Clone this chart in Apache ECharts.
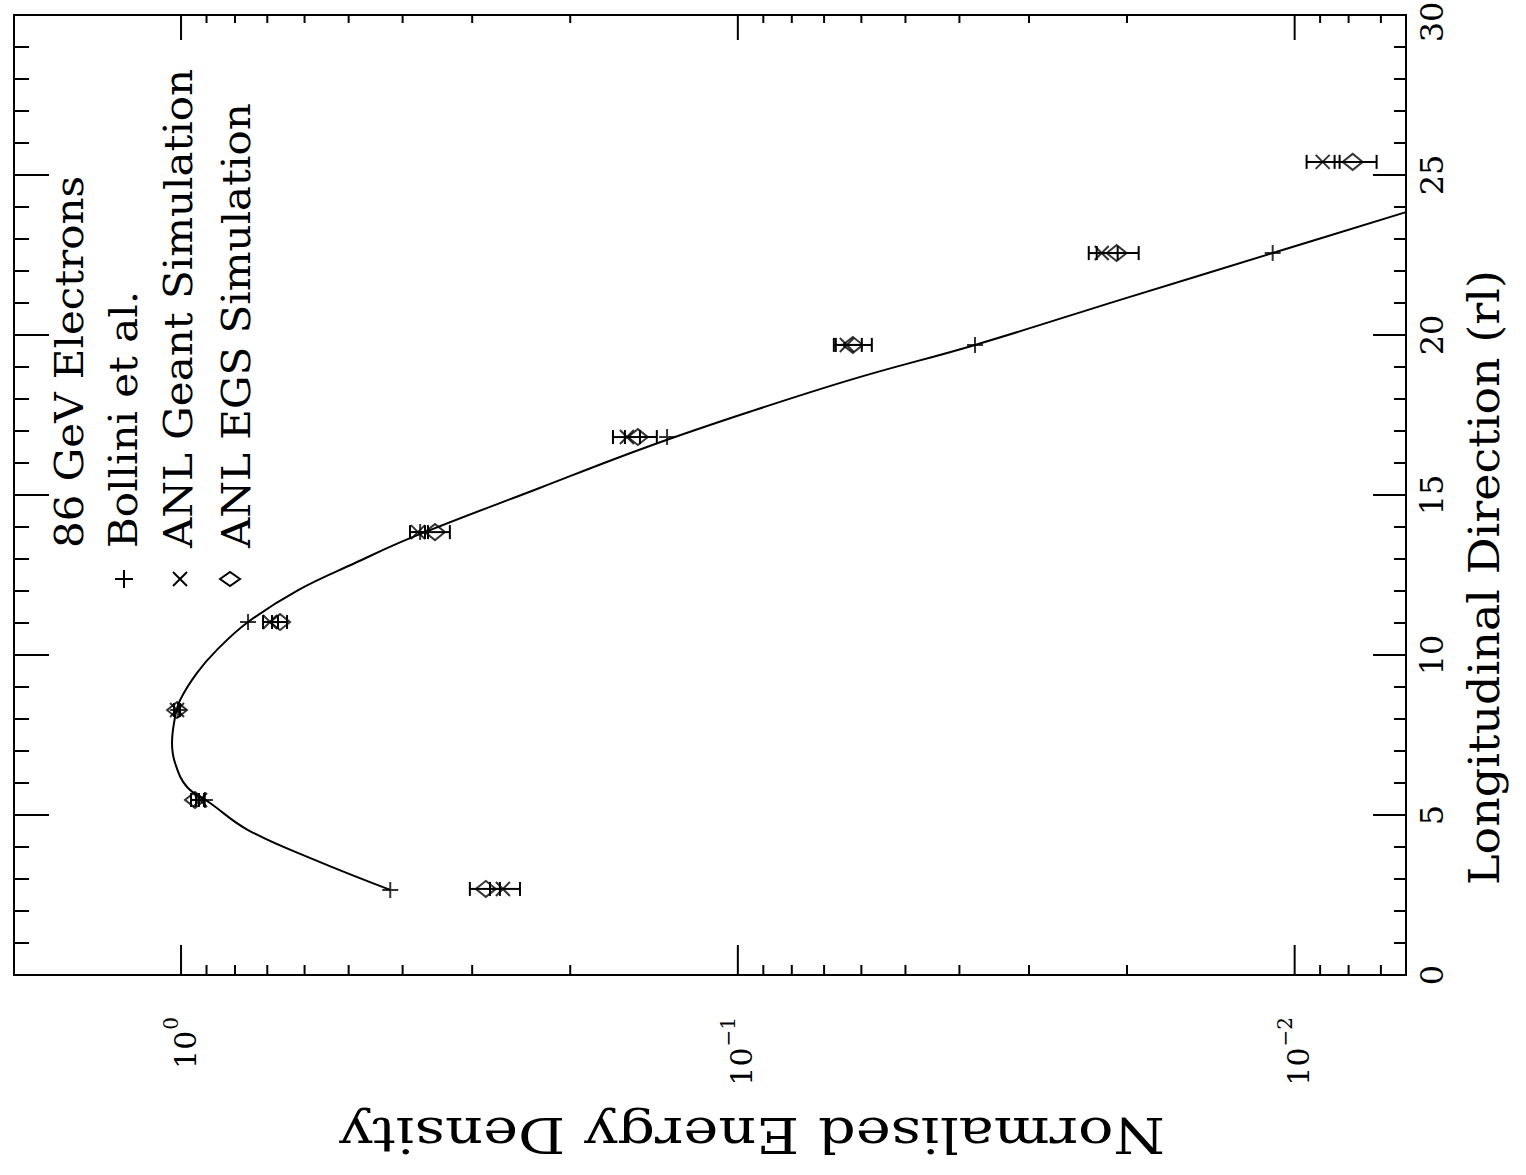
<!DOCTYPE html>
<html>
<head>
<meta charset="utf-8">
<script src="https://cdn.jsdelivr.net/npm/echarts@6/dist/echarts.min.js"></script>
<style>
  html, body { margin: 0; padding: 0; background: #fff; overflow: hidden; }
  #page { position: absolute; left: 0; top: 0; width: 1526px; height: 1175px; overflow: hidden; background: #fff; }
  /* the figure is laid out in portrait and turned a quarter turn anticlockwise */
  #chart { position: absolute; left: 0; top: 0; width: 1175px; height: 1526px;
           transform-origin: 0 0; transform: translate(0, 1175px) rotate(-90deg); }
</style>
</head>
<body>
<div id="page"><div id="chart"></div></div>
<script>
// ---- data: depth in radiation lengths, normalised energy density ----
const depthBollini = [2.66, 5.47, 8.28, 11.03, 13.84, 16.81, 19.69, 22.56];
const bollini      = [0.421, 0.906, 1.012, 0.758, 0.372, 0.134, 0.0375, 0.01095];

const depthSim  = [2.69, 5.47, 8.28, 11.03, 13.84, 16.81, 19.69, 22.56, 25.41];
const geant     = [0.2642, 0.9244, 1.0167, 0.6921, 0.3754, 0.1582, 0.06372, 0.02221, 0.008906];
const geantHigh = [0.2787, 0.9399, 1.0294, 0.7124, 0.3880, 0.1676, 0.06723, 0.02343, 0.009517];
const geantLow  = [0.2462, 0.9093, 1.0041, 0.6697, 0.3601, 0.1499, 0.05989, 0.02079, 0.008303];
const egs       = [0.2835, 0.9438, 1.0167, 0.6641, 0.3499, 0.1512, 0.06215, 0.02088, 0.007866];
const egsHigh   = [0.3029, 0.9595, 1.0294, 0.6864, 0.3646, 0.1595, 0.06669, 0.02267, 0.008477];
const egsLow    = [0.2675, 0.9283, 1.0041, 0.6451, 0.3290, 0.1398, 0.05746, 0.01906, 0.007125];

// fitted longitudinal shower profile
const fitDepth = [2.66, 3.59, 4.53, 5.375, 5.875, 6.625, 7.25, 8.06, 8.59, 9.44, 10.16, 11.03,
                  12.03, 12.875, 13.69, 15.22, 16.5, 17.6, 18.66, 19.69, 21.13, 22.56, 23.84];
const fitValue = [0.421, 0.574, 0.758, 0.887, 0.9755, 1.025, 1.038, 1.025, 1.004, 0.936, 0.862, 0.758,
                  0.616, 0.487, 0.383, 0.227, 0.1456, 0.0952, 0.0611, 0.0375, 0.0203, 0.01095, 0.00631];

// axis ticks
const depthTicks    = [0, 5, 10, 15, 20, 25, 30];
const decadeTicks   = [1, 0.1, 0.01];
const decadeExps    = ['0', '\u22121', '\u22122'];
const minorLogTicks = [0.9, 0.8, 0.7, 0.6, 0.5, 0.4, 0.3, 0.2,
                       0.09, 0.08, 0.07, 0.06, 0.05, 0.04, 0.03, 0.02,
                       0.009, 0.008, 0.007];

const legendLines = ['86 GeV Electrons', 'Bollini et al.', 'ANL Geant Simulation', 'ANL EGS Simulation'];
const xTitle = 'Longitudinal Direction (rl)';
const yTitle = 'Normalised Energy Density';

// ---- styling ----
const LOG_MIN = Math.pow(10, -2.2);
const LOG_MAX = Math.pow(10, 0.3);
const FAMILY = '"DejaVu Serif", "Liberation Serif", serif';
const INK = '#000';
const CHART_W = 1175;

const PLUS = 'path://M0,5L10,5M5,0L5,10';
const CROSS = 'path://M0,0L10,10M10,0L0,10';
const DIAMOND = 'path://M5,0L10,5L5,10L0,5Z';

function textEl(x, y, text, size, align, sy, extra) {
  return Object.assign({
    type: 'text', x: x, y: y, scaleY: sy || 1, silent: true,
    style: { text: text, font: size + 'px ' + FAMILY, fill: INK, align: align || 'left', verticalAlign: 'middle' }
  }, extra || {});
}

const chart = echarts.init(document.getElementById('chart'), null, { renderer: 'svg' });

const markerStyle = { color: 'rgba(0,0,0,0)', borderColor: INK, borderWidth: 2 };
const line2 = { stroke: INK, lineWidth: 2 };

function errorBars(low, high) {
  return {
    type: 'custom', silent: true, z: 3,
    data: depthSim.map((d, i) => [d, low[i], high[i]]),
    encode: { x: 0, y: [1, 2] },
    renderItem: function (params, api) {
      const a = api.coord([api.value(0), api.value(1)]);
      const b = api.coord([api.value(0), api.value(2)]);
      const c = 7;
      return { type: 'group', children: [
        { type: 'line', shape: { x1: a[0], y1: a[1], x2: b[0], y2: b[1] }, style: line2 },
        { type: 'line', shape: { x1: a[0] - c, y1: a[1], x2: a[0] + c, y2: a[1] }, style: line2 },
        { type: 'line', shape: { x1: b[0] - c, y1: b[1], x2: b[0] + c, y2: b[1] }, style: line2 }
      ]};
    }
  };
}

const logTickData = decadeTicks.map(v => [0, v, 1]).concat(minorLogTicks.map(v => [0, v, 0]));

const option = {
  backgroundColor: '#fff',
  animation: false,
  grid: { left: 200, right: 15, top: 14, bottom: 120, show: true, borderColor: INK, borderWidth: 2 },
  xAxis: [
    {
      type: 'value', position: 'bottom', min: 0, max: 30, interval: 5,
      axisLine: { show: true, lineStyle: { color: INK, width: 2 } },
      axisTick: { show: true, inside: true, length: 33, lineStyle: { color: INK, width: 2 } },
      minorTick: { show: true, splitNumber: 5, length: 12, lineStyle: { color: INK, width: 2 } },
      axisLabel: { show: false }, splitLine: { show: false }
    },
    {
      type: 'value', position: 'top', min: 0, max: 30, interval: 5,
      axisLine: { show: true, lineStyle: { color: INK, width: 2 } },
      axisTick: { show: true, inside: true, length: 35, lineStyle: { color: INK, width: 2 } },
      minorTick: { show: true, splitNumber: 5, length: 15, lineStyle: { color: INK, width: 2 } },
      axisLabel: { show: false }, splitLine: { show: false }
    }
  ],
  yAxis: [{
    type: 'log', logBase: 10, min: LOG_MIN, max: LOG_MAX,
    axisLine: { show: true, lineStyle: { color: INK, width: 2 } },
    axisTick: { show: false }, axisLabel: { show: false }, splitLine: { show: false }
  }],
  series: [
    {
      name: 'fit', type: 'line', data: fitDepth.map((d, i) => [d, fitValue[i]]),
      smooth: 0.4, showSymbol: false, silent: true, z: 2,
      lineStyle: { color: INK, width: 2 }
    },
    {
      name: 'Bollini et al.', type: 'scatter', data: depthBollini.map((d, i) => [d, bollini[i]]),
      symbol: PLUS, symbolSize: 16, itemStyle: markerStyle, z: 4
    },
    errorBars(geantLow, geantHigh),
    errorBars(egsLow, egsHigh),
    {
      name: 'ANL Geant Simulation', type: 'scatter', data: depthSim.map((d, i) => [d, geant[i]]),
      symbol: CROSS, symbolSize: 14, itemStyle: markerStyle, z: 4
    },
    {
      name: 'ANL EGS Simulation', type: 'scatter', data: depthSim.map((d, i) => [d, egs[i]]),
      symbol: DIAMOND, symbolSize: [16, 20], itemStyle: markerStyle, z: 4
    },
    // log axis ticks on both long edges
    {
      type: 'custom', silent: true, clip: false, z: 5,
      data: logTickData, encode: { x: 0, y: 1 },
      renderItem: function (params, api) {
        const v = api.value(1), major = api.value(2) === 1;
        const l = api.coord([0, v]);
        const r = api.coord([30, v]);
        return { type: 'group', children: [
          { type: 'line', shape: { x1: l[0], y1: l[1], x2: l[0] + (major ? 30 : 10), y2: l[1] }, style: line2 },
          { type: 'line', shape: { x1: r[0], y1: r[1], x2: r[0] - (major ? 25 : 8), y2: r[1] }, style: line2 }
        ]};
      }
    },
    // decade labels 10^n
    {
      type: 'custom', silent: true, clip: false, z: 5,
      data: decadeTicks.map((v, i) => [0, v, i]), encode: { x: 0, y: 1 },
      renderItem: function (params, api) {
        const p = api.coord([0, api.value(1)]);
        const exp = decadeExps[api.value(2)];
        const right = p[0] - 42;
        const expW = echarts.format.getTextRect ? echarts.format.getTextRect(exp, '20px ' + FAMILY).width : exp.length * 13;
        return { type: 'group', children: [
          textEl(right, p[1] - 10, exp, 20, 'right'),
          textEl(right - expW - 1, p[1] + 4, '10', 30, 'right')
        ]};
      }
    },
    // depth labels under the axis
    {
      type: 'custom', silent: true, clip: false, z: 5,
      data: depthTicks.map(d => [d, LOG_MIN]), encode: { x: 0, y: 1 },
      renderItem: function (params, api) {
        const p = api.coord([api.value(0), api.value(1)]);
        const x = Math.min(p[0], CHART_W - 22);
        return textEl(x, p[1] + 26, String(api.value(0)), 32, 'center');
      }
    }
  ],
  graphic: [
    textEl(627, 70, legendLines[0], 42, 'left', 0.92),
    textEl(627, 124, legendLines[1], 42, 'left', 0.92),
    textEl(627, 179, legendLines[2], 42, 'left', 0.92),
    textEl(627, 237, legendLines[3], 42, 'left', 0.92),
    { type: 'group', x: 596, y: 124, silent: true, children: [
      { type: 'line', shape: { x1: -9, y1: 0, x2: 9, y2: 0 }, style: line2 },
      { type: 'line', shape: { x1: 0, y1: -9, x2: 0, y2: 9 }, style: line2 }
    ]},
    { type: 'group', x: 596, y: 180, silent: true, children: [
      { type: 'line', shape: { x1: -7, y1: -7, x2: 7, y2: 7 }, style: line2 },
      { type: 'line', shape: { x1: 7, y1: -7, x2: -7, y2: 7 }, style: line2 }
    ]},
    { type: 'polygon', x: 596, y: 230, silent: true,
      shape: { points: [[0, -10], [7, 0], [0, 10], [-7, 0]] },
      style: { fill: 'none', stroke: INK, lineWidth: 2 } },
    textEl(290, 1484, xTitle, 46, 'left', 0.95),
    textEl(40, 752, yTitle, 59, 'center', 0.82, { rotation: Math.PI / 2 })
  ]
};

chart.setOption(option);
</script>
</body>
</html>
